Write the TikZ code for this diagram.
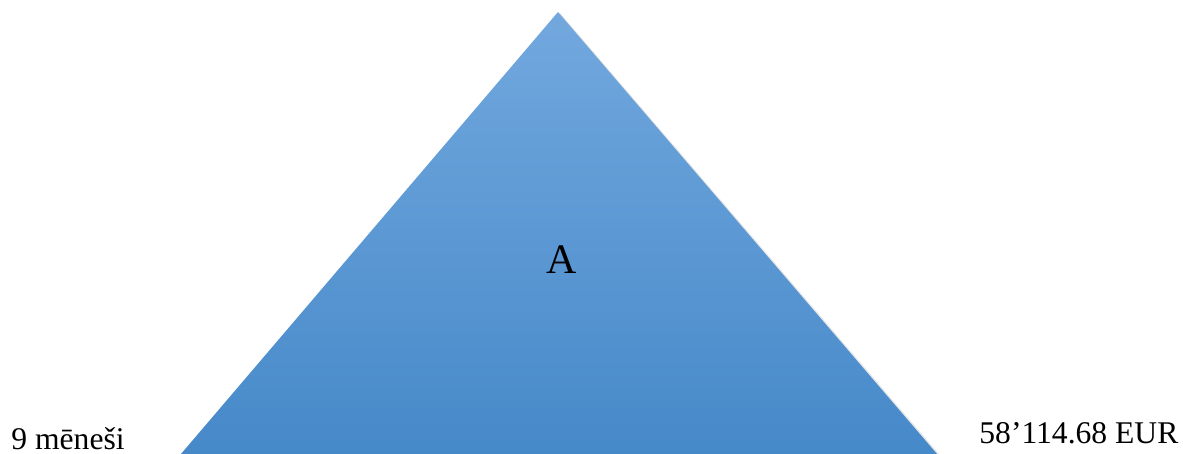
\documentclass[tikz,border=0pt]{standalone}
\usepackage{fontspec}
\setmainfont{Liberation Serif}
\definecolor{pyrtop}{RGB}{114,168,222}
\definecolor{pyrbot}{RGB}{70,137,201}
\usetikzlibrary{positioning}

\begin{document}
\begin{tikzpicture}[
        x=0.5pt, y=-0.5pt,
        every node/.style={font=\fontsize{15.8}{18}\selectfont, inner sep=0pt},
        label/.style={anchor=base west},
        mark text/.style={anchor=base, font=\fontsize{21}{25}\selectfont}
      ]
      \useasboundingbox (0,0) rectangle (1183,454);
      \coordinate (apex) at (558,12);
      \coordinate (bl) at (181,454);
      \coordinate (br) at (937,454);

      % soft shadow
      \fill[black, opacity=0.10] ([xshift=1pt,yshift=-0.5pt]apex) -- ([xshift=1pt]br) -- (bl) -- cycle;
      \shade[top color=pyrtop, bottom color=pyrbot] (apex) -- (br) -- (bl) -- cycle;

      \node[mark text] (lvl) at (562,273) {A};
      \node[label] (time) at (11,449) {9 mēneši};
      \node[label] (cost) at (979,443) {58’114.68 EUR};
    \end{tikzpicture}
\end{document}
